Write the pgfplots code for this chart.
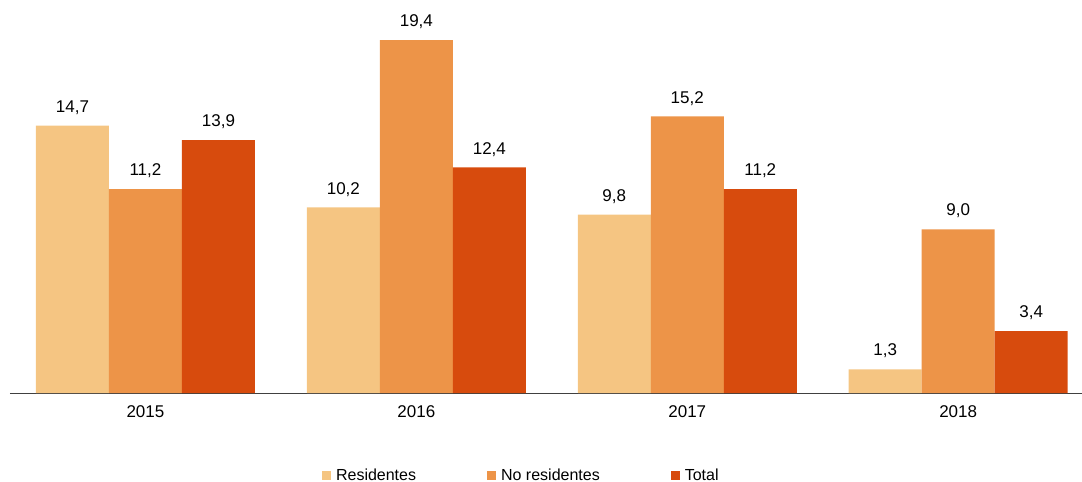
\documentclass[border=0pt]{standalone}
\usepackage{pgfplots}
\pgfplotsset{compat=1.18}
\usepackage{fontspec}
\setmainfont{Liberation Sans}
\definecolor{resid}{HTML}{F5C582}
\definecolor{nores}{HTML}{ED9448}
\definecolor{total}{HTML}{D74B0D}
\begin{document}
\begin{tikzpicture}
\path[use as bounding box] (-10pt,-89pt) rectangle (1072pt,393pt);
\begin{axis}[
  scale only axis,
  width=1072pt, height=393pt,
  at={(0,0)}, anchor=south west,
  ybar, bar width=73pt,
  ymin=0, ymax=21.6,
  xmin=-0.5, xmax=3.457,
  xtick={0,1,2,3},
  xticklabels={2015,2016,2017,2018},
  major tick length=0,
  axis x line*=bottom,
  axis y line=none,
  x axis line style={-, draw=black!75, line width=0.8pt},
  xticklabel style={font=\fontsize{17}{19}\selectfont, yshift=-9pt},
  /pgf/number format/use comma,
  /pgf/number format/fixed,
  /pgf/number format/fixed zerofill,
  /pgf/number format/precision=1,
  /pgf/number format/assume math mode=true,
  nodes near coords,
  nodes near coords style={font=\fontsize{17}{19}\selectfont, inner sep=11pt, text=black},
  legend style={at={(0.477,-0.2087)}, anchor=center, draw=none,
    font=\fontsize{16}{18}\selectfont, legend columns=3,
    /tikz/every odd column/.append style={column sep=3pt},
    /tikz/every even column/.append style={column sep=69pt}},
  legend image code/.code={\fill[#1,draw=none] (0pt,-4.5pt) rectangle (9pt,4.5pt);},
]
\addplot[fill=resid, draw=none, bar shift=-73pt] coordinates {(0,14.7) (1,10.2) (2,9.8) (3,1.3)};
\addplot[fill=nores, draw=none, bar shift=0pt] coordinates {(0,11.2) (1,19.4) (2,15.2) (3,9.0)};
\addplot[fill=total, draw=none, bar shift=73pt] coordinates {(0,13.9) (1,12.4) (2,11.2) (3,3.4)};
\legend{Residentes, No residentes, Total}
\end{axis}
\end{tikzpicture}
\end{document}
